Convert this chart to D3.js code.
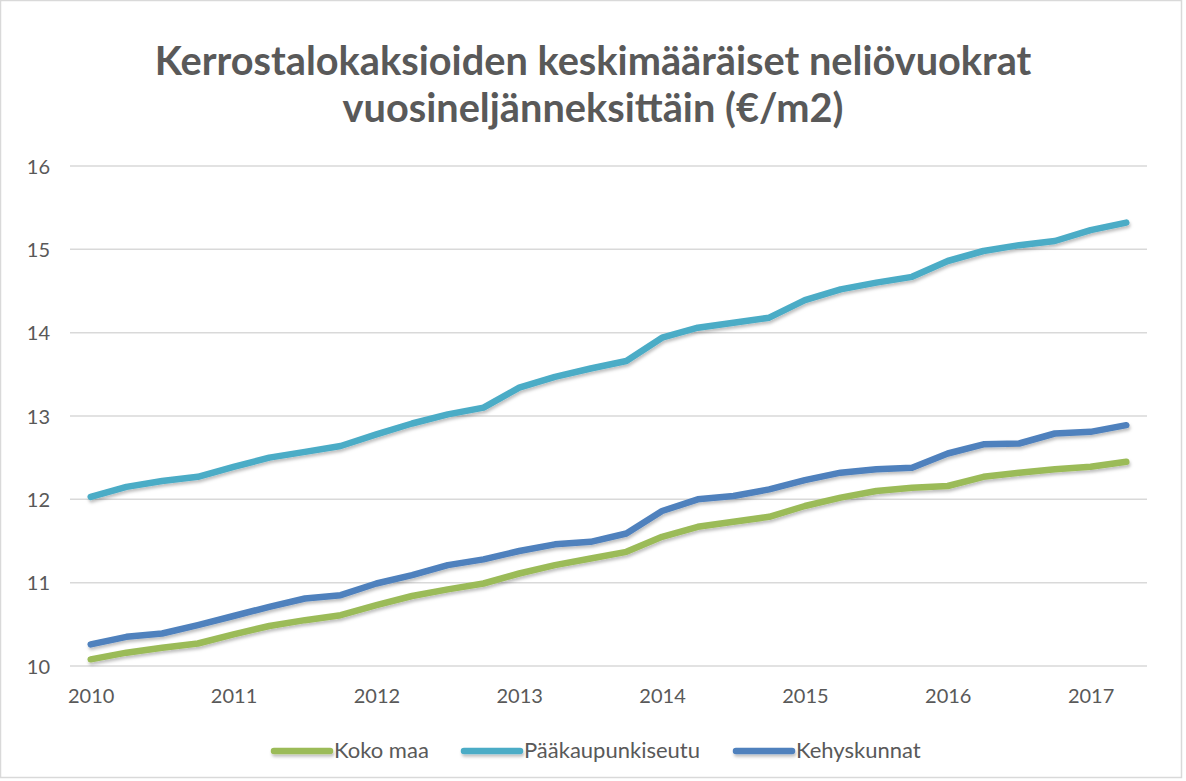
<!DOCTYPE html>
<html>
<head>
<meta charset="utf-8">
<script src="https://cdn.jsdelivr.net/npm/d3@7"></script>
<style>
  body { margin: 0; background: #fff; }
  text { font-family: Lato, "Open Sans", sans-serif; fill: #595959; }
</style>
</head>
<body>
<div id="chart"></div>
<script>
// data, quarterly 2010Q1 .. 2017Q2
var years = ["2010","2011","2012","2013","2014","2015","2016","2017"];
var quarters = [];
years.forEach(function(y) { ["Q1","Q2","Q3","Q4"].forEach(function(q) { quarters.push(y + q); }); });
quarters = quarters.slice(0, 30);

var kokoMaa = [10.08,10.16,10.22,10.27,10.38,10.48,10.55,10.61,10.73,10.84,10.92,10.99,11.11,11.21,11.29,11.37,
               11.55,11.67,11.73,11.79,11.92,12.02,12.10,12.14,12.16,12.27,12.32,12.36,12.39,12.45];
var paakaupunkiseutu = [12.03,12.15,12.22,12.27,12.39,12.50,12.57,12.64,12.78,12.91,13.02,13.10,13.34,13.47,13.57,13.66,
                        13.94,14.06,14.12,14.18,14.39,14.52,14.60,14.67,14.86,14.98,15.05,15.10,15.23,15.32];
var kehyskunnat = [10.26,10.35,10.39,10.49,10.60,10.71,10.81,10.85,10.99,11.09,11.21,11.28,11.38,11.46,11.49,11.59,
                   11.86,12.00,12.04,12.12,12.23,12.32,12.36,12.38,12.55,12.66,12.67,12.79,12.81,12.89];
var seriesNames = ["Koko maa","Pääkaupunkiseutu","Kehyskunnat"];
var seriesColors = ["#9bbb59","#4bacc6","#4f81bd"];
var yTicks = [10,11,12,13,14,15,16];
var titleLines = ["Kerrostalokaksioiden keskimääräiset neliövuokrat","vuosineljänneksittäin (€/m2)"];

var width = 1186, height = 781;
var plotLeft = 70, plotRight = 1147, plotTop = 166, plotBottom = 666;

var svg = d3.select("#chart").append("svg").attr("width", width).attr("height", height);

// chart border
svg.append("rect")
    .attr("x", 0.5).attr("y", 0.5)
    .attr("width", 1181).attr("height", 777)
    .attr("fill", "#fff")
    .attr("stroke", "#d9d9d9")
    .attr("stroke-width", 1.5);

var defs = svg.append("defs");
var f = defs.append("filter").attr("id","shadow")
    .attr("filterUnits","userSpaceOnUse")
    .attr("x",0).attr("y",0).attr("width",width).attr("height",height);
f.append("feDropShadow").attr("dx",1).attr("dy",2.5).attr("stdDeviation",1.5)
    .attr("flood-color","#000").attr("flood-opacity",0.25);

var xScale = d3.scalePoint().domain(quarters).range([plotLeft, plotRight]).padding(0.58);
var yScale = d3.scaleLinear().domain([10,16]).range([plotBottom, plotTop]);

// title
var titleG = svg.append("g");
titleLines.forEach(function(t, i) {
    titleG.append("text")
        .attr("x", 593)
        .attr("y", 75 + i*47)
        .attr("text-anchor","middle")
        .attr("font-weight","bold")
        .attr("font-size","36px")
        .text(t);
});
// fit first line to the reference width
var tw = titleG.select("text").node().getComputedTextLength();
var fs = 36 * 877 / tw;
titleG.selectAll("text").attr("font-size", fs + "px");

// grid
svg.append("g").selectAll("line").data(yTicks).enter()
    .append("line")
    .attr("x1", plotLeft).attr("x2", plotRight)
    .attr("y1", function(d) { return yScale(d); })
    .attr("y2", function(d) { return yScale(d); })
    .attr("stroke", "#d9d9d9")
    .attr("stroke-width", 1.5);

// y axis labels
var yAxis = svg.append("g").attr("transform","translate(" + (plotLeft - 20) + ",0)")
    .call(d3.axisLeft(yScale).tickValues(yTicks).tickFormat(d3.format("d")).tickSize(0).tickPadding(0));
yAxis.select(".domain").remove();
yAxis.selectAll("text").attr("font-size","20px").attr("fill","#595959").style("font-family","Lato, sans-serif").attr("dy","0.35em");

// x axis labels (year under first quarter)
var xAxis = svg.append("g").attr("transform","translate(0," + plotBottom + ")")
    .call(d3.axisBottom(xScale)
        .tickValues(quarters.filter(function(q) { return q.slice(4) == "Q1"; }))
        .tickFormat(function(q) { return q.slice(0,4); })
        .tickSize(0).tickPadding(23));
xAxis.select(".domain").remove();
xAxis.selectAll("text").attr("font-size","20px").attr("fill","#595959").style("font-family","Lato, sans-serif");

// lines
var allSeries = [kokoMaa, paakaupunkiseutu, kehyskunnat];
var line = d3.line()
    .x(function(d,i) { return xScale(quarters[i]); })
    .y(function(d) { return yScale(d); });

allSeries.forEach(function(s, i) {
    svg.append("path")
        .datum(s)
        .attr("d", line)
        .attr("fill","none")
        .attr("stroke", seriesColors[i])
        .attr("stroke-width", 6.5)
        .attr("stroke-linecap","round")
        .attr("stroke-linejoin","round")
        .attr("filter","url(#shadow)");
});

// legend
var legendX = [274, 464, 736];
var legend = svg.append("g");
seriesNames.forEach(function(n, i) {
    legend.append("line")
        .attr("x1", legendX[i]).attr("x2", legendX[i] + 56)
        .attr("y1", 751).attr("y2", 751)
        .attr("stroke", seriesColors[i])
        .attr("stroke-width", 6.5)
        .attr("stroke-linecap","round")
        .attr("filter","url(#shadow)");
    legend.append("text")
        .attr("x", legendX[i] + 60)
        .attr("y", 758)
        .attr("font-size","22px")
        .text(n);
});
</script>
</body>
</html>
